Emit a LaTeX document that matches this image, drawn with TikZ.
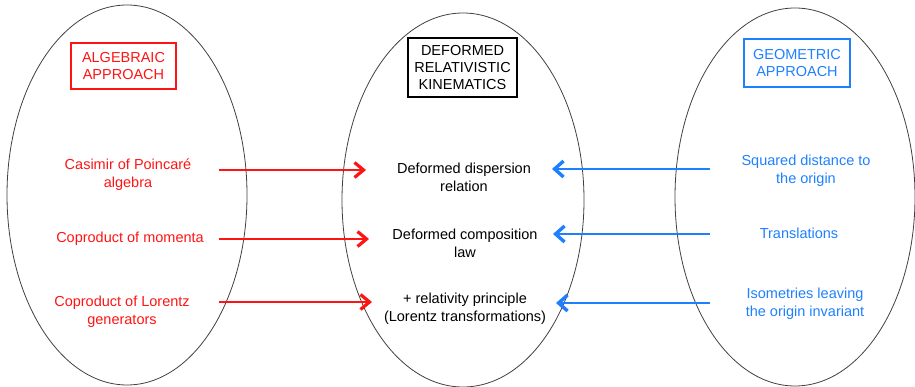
\documentclass[tikz,border=0pt]{standalone}
\usepackage{fontspec}
\setmainfont{Liberation Sans}
\usetikzlibrary{arrows.meta,shapes.geometric}
\definecolor{myred}{RGB}{255,20,20}
\definecolor{myblue}{RGB}{30,128,255}
\tikzset{
  oval/.style={draw=black!75, line width=0.8pt},
  titlebox/.style={draw, line width=1.4pt, align=center, inner sep=4pt, font=\fontsize{14.5}{17}\selectfont},
  lbl/.style={align=center, font=\fontsize{14.5}{18}\selectfont},
  redarr/.style={draw=myred, line width=2pt, -{Straight Barb[length=9pt,width=15pt,line width=3.2pt]}},
  bluearr/.style={draw=myblue, line width=2.6pt, -{Straight Barb[length=9pt,width=16pt,line width=3.4pt]}},
}
\begin{document}
\begin{tikzpicture}[x=1pt,y=-1pt]
\useasboundingbox (0,0) rectangle (915,387);
% ellipses
\draw[oval] (127,195) ellipse [x radius=120, y radius=190];
\draw[oval] (463,200) ellipse [x radius=121, y radius=187];
\draw[oval] (795,197) ellipse [x radius=120, y radius=189];
% title boxes
\node[titlebox, draw=myred, text=myred, minimum width=105, minimum height=46] (alg) at (123.5,66) {ALGEBRAIC\\APPROACH};
\node[titlebox, draw=black, minimum width=109, minimum height=59] (def) at (462.5,67.5) {DEFORMED\\RELATIVISTIC\\KINEMATICS};
\node[titlebox, draw=myblue, text=myblue, minimum width=106, minimum height=48] (geo) at (797,63) {GEOMETRIC\\APPROACH};
% left labels
\node[lbl, text=myred] (cas) at (128,175) {Casimir of Poincaré\\algebra};
\node[lbl, text=myred] (com) at (130,239) {Coproduct of momenta};
\node[lbl, text=myred] (col) at (122,312) {Coproduct of Lorentz\\generators};
% middle labels
\node[lbl] (ddr) at (464,177) {Deformed dispersion\\relation};
\node[lbl] (dcl) at (465,243) {Deformed composition\\law};
\node[lbl] (rel) at (465,309) {+ relativity principle\\(Lorentz transformations)};
% right labels
\node[lbl, text=myblue] (sq) at (806,171) {Squared distance to\\the origin};
\node[lbl, text=myblue] (tr) at (799,233) {Translations};
\node[lbl, text=myblue] (iso) at (805,304) {Isometries leaving\\the origin invariant};
% connector coordinates
\coordinate (r1s) at (219,170); \coordinate (r1e) at (366,170);
\coordinate (r2s) at (219,239); \coordinate (r2e) at (369,239);
\coordinate (r3s) at (219,302); \coordinate (r3e) at (372,302);
\coordinate (b1s) at (710,169); \coordinate (b1e) at (552,169);
\coordinate (b2s) at (710,234); \coordinate (b2e) at (553,234);
\coordinate (b3s) at (710,303); \coordinate (b3e) at (556,303);
\draw[redarr] (r1s) -- (r1e);
\draw[redarr] (r2s) -- (r2e);
\draw[redarr] (r3s) -- (r3e);
\draw[bluearr] (b1s) -- (b1e);
\draw[bluearr] (b2s) -- (b2e);
\draw[bluearr] (b3s) -- (b3e);
\end{tikzpicture}
\end{document}
